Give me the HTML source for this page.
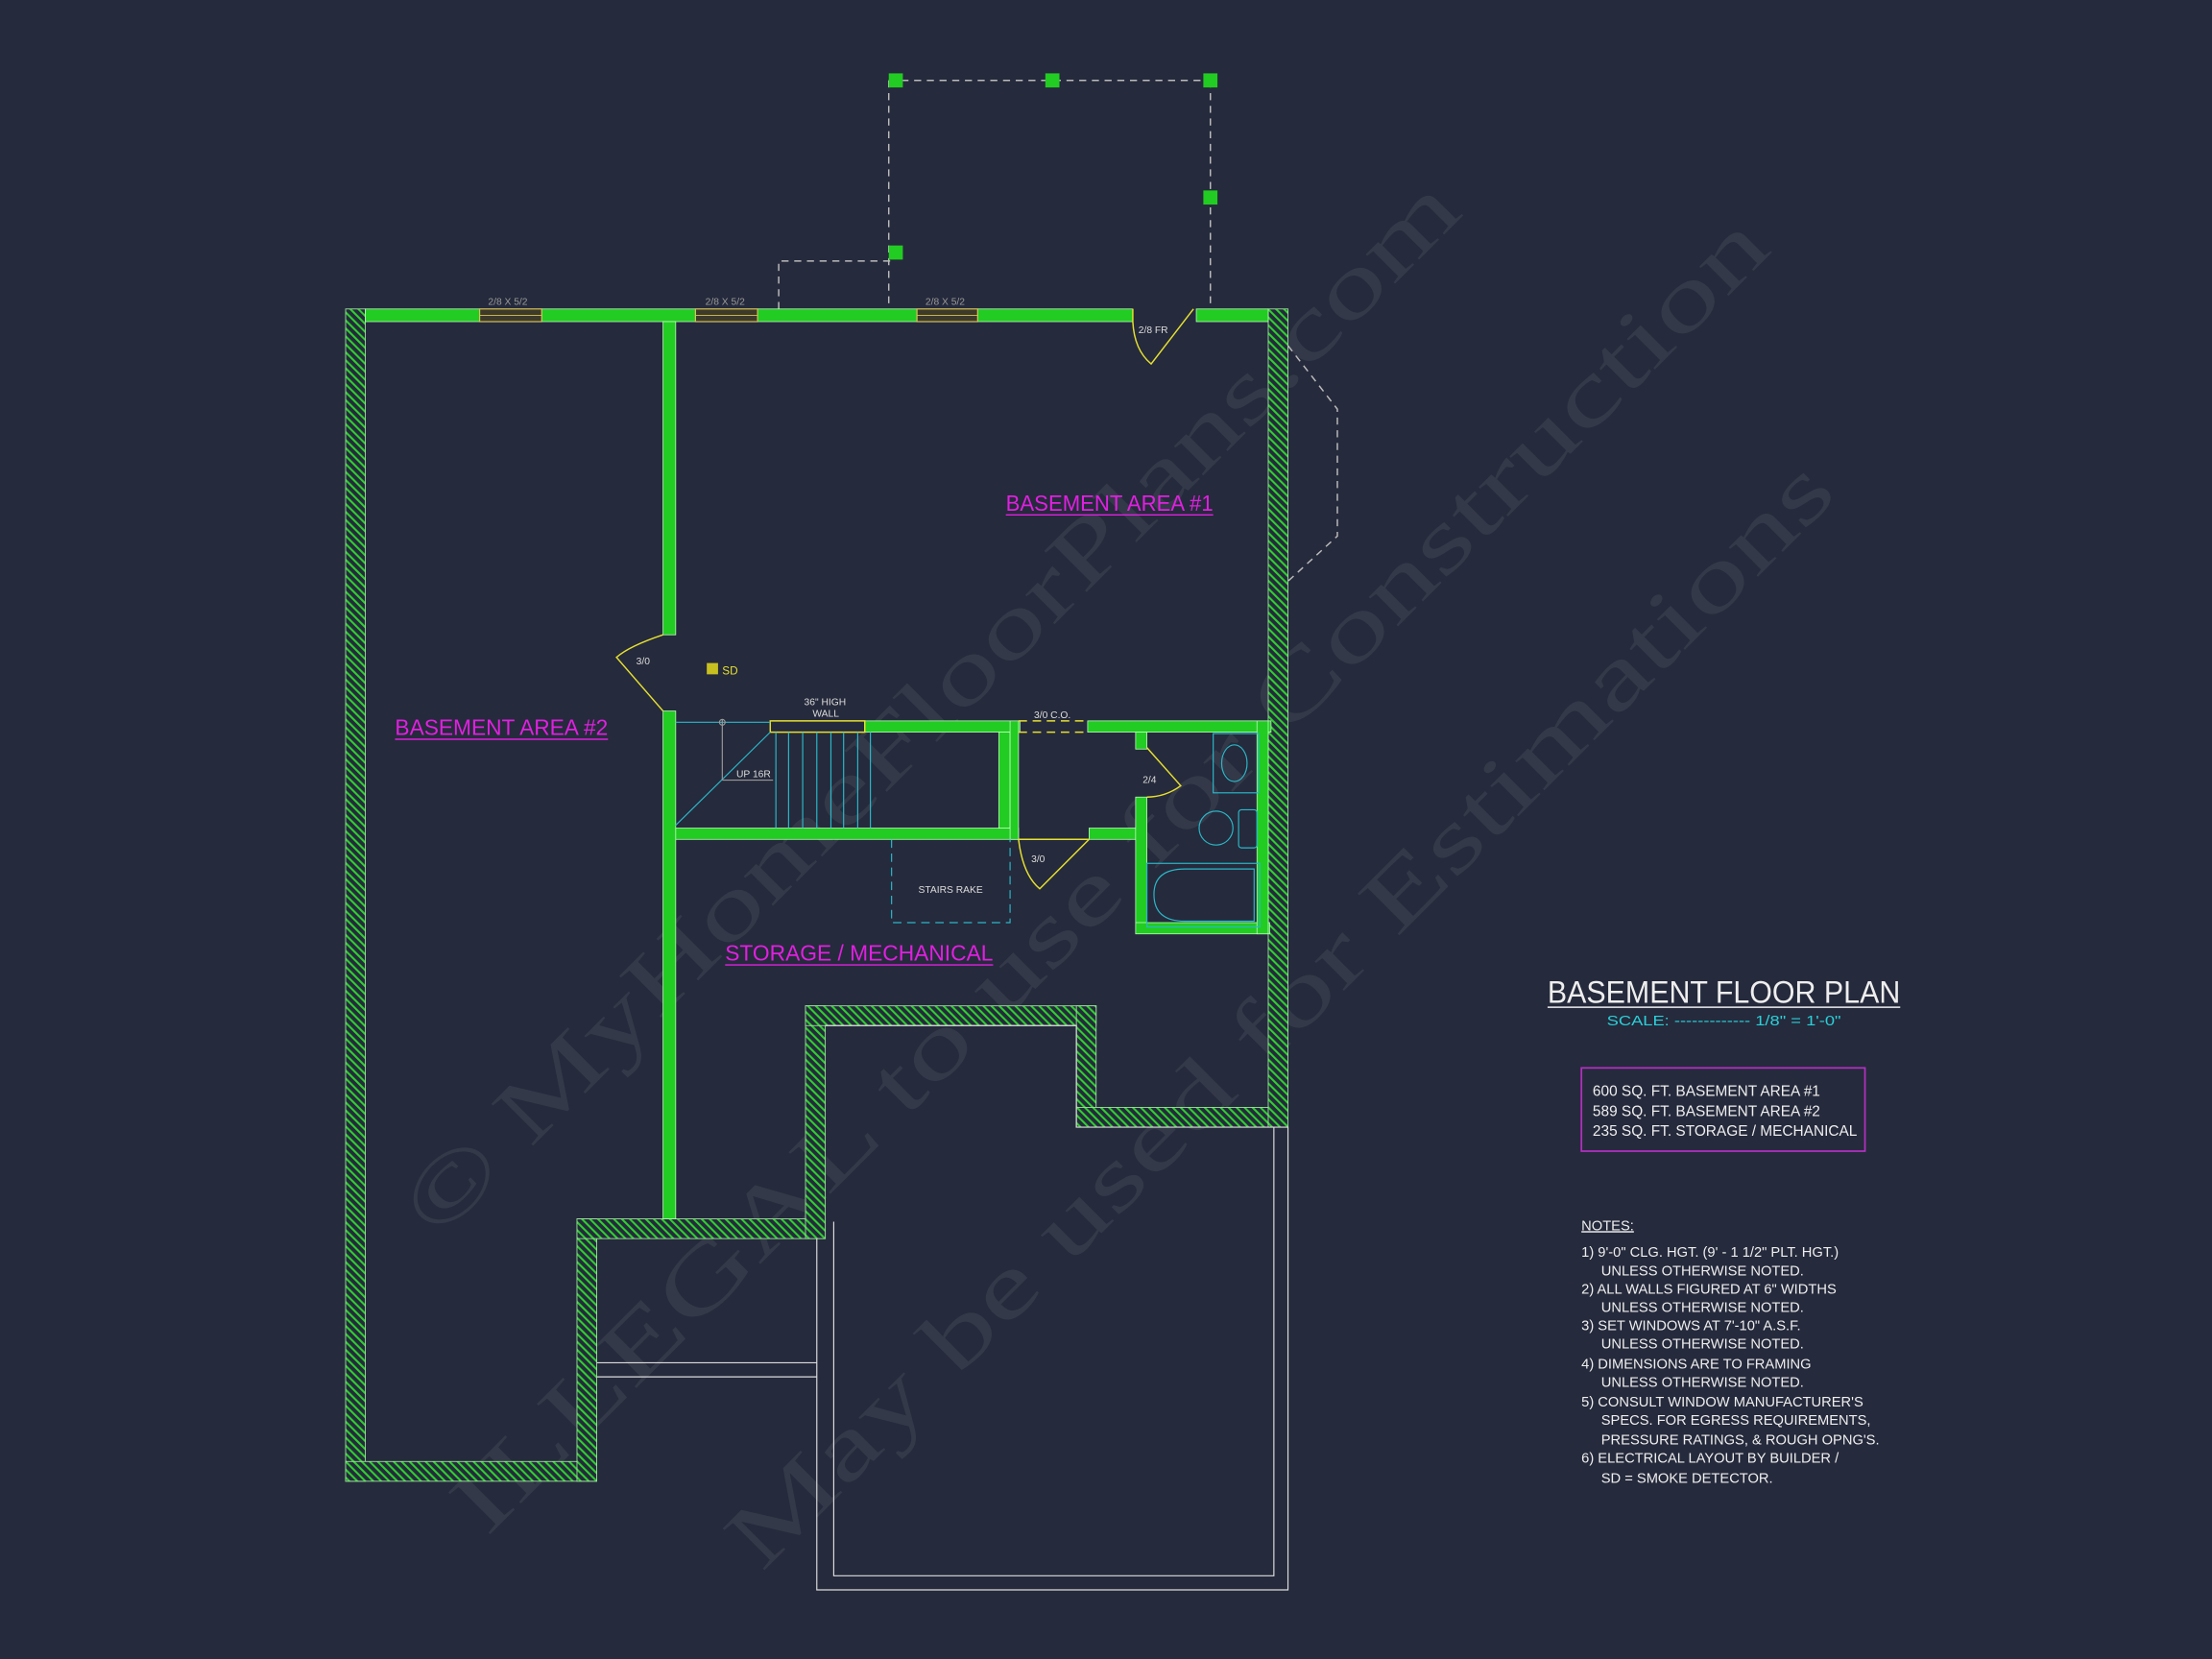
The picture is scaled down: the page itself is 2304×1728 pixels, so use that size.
<!DOCTYPE html>
<html><head><meta charset="utf-8"><style>
html,body{margin:0;padding:0;background:#252a3c;}
svg{display:block}
text{font-family:"Liberation Sans",sans-serif;}
text.wm{font-family:"Liberation Serif",serif;}
</style></head><body>
<svg width="2304" height="1728" viewBox="0 0 1568 1176" xmlns="http://www.w3.org/2000/svg">
<defs>
<pattern id="h" width="4" height="4" patternUnits="userSpaceOnUse" patternTransform="rotate(-45)">
<rect width="4" height="4" fill="#252a3c"/><rect width="1.4" height="4" fill="#2fd02f"/>
</pattern>
</defs>
<rect width="1568" height="1176" fill="#252a3c"/>

<!-- watermark -->
<g fill="#343949" font-size="64">
<text class="wm" transform="translate(310,880) rotate(-45)" textLength="1030" lengthAdjust="spacingAndGlyphs">© MyHomeFloorPlans.com</text>
<text class="wm" transform="translate(345,1090) rotate(-45)" textLength="1290" lengthAdjust="spacingAndGlyphs">ILLEGAL to use for Construction</text>
<text class="wm" transform="translate(540,1115) rotate(-45)" textLength="1080" lengthAdjust="spacingAndGlyphs">May be used for Estimations</text>
</g>

<!-- porch dashed -->
<g stroke="#bbbbbb" stroke-width="1" fill="none" stroke-dasharray="5,4">
<path d="M630 57 H858 M630 57 V219 M858 57 V219 M552 219 V185 H632"/>
<path d="M913 245 L948 290 V380 L913 412"/>
</g>
<g fill="#22cc22"><rect x="630" y="52" width="10" height="10"/><rect x="741" y="52" width="10" height="10"/><rect x="853" y="52" width="10" height="10"/><rect x="853" y="135" width="10" height="10"/><rect x="630" y="174" width="10" height="10"/></g>

<!-- hatched foundation walls -->
<g fill="url(#h)" stroke="#9fe39f" stroke-width="0.6">
<rect x="245" y="219" width="14" height="831"/>
<rect x="245" y="1036" width="178" height="14"/>
<rect x="409" y="864" width="14" height="186"/>
<rect x="409" y="864" width="176" height="14"/>
<rect x="571" y="713" width="14" height="165"/>
<rect x="571" y="713" width="206" height="14"/>
<rect x="763" y="713" width="14" height="86"/>
<rect x="763" y="785" width="150" height="14"/>
<rect x="899" y="219" width="14" height="580"/>
</g>

<!-- green walls -->
<g fill="#22cc22" stroke="#c8ffc8" stroke-width="0.5">
<rect x="259" y="219" width="81" height="9"/>
<rect x="384" y="219" width="109" height="9"/>
<rect x="537" y="219" width="113" height="9"/>
<rect x="693" y="219" width="110" height="9"/>
<rect x="848" y="219" width="51" height="9"/>
<rect x="470" y="228" width="9" height="222"/>
<rect x="470" y="504" width="9" height="360"/>
<rect x="613" y="511" width="110" height="8"/>
<rect x="771" y="511" width="130" height="8"/>
<rect x="479" y="587" width="243" height="8"/>
<rect x="708" y="519" width="8" height="68"/>
<rect x="716" y="511" width="6" height="84"/>
<rect x="772" y="587" width="36" height="8"/>
<rect x="805" y="519" width="8" height="12"/>
<rect x="805" y="565" width="8" height="96"/>
<rect x="805" y="654" width="95" height="8"/>
<rect x="891" y="511" width="8" height="151"/>
</g>
<!-- windows -->
<g fill="#3d3a2a" stroke="#d8c35a" stroke-width="0.8">
<rect x="340" y="219" width="44" height="9"/><rect x="493" y="219" width="44" height="9"/><rect x="650" y="219" width="43" height="9"/>
</g>
<g stroke="#d8c35a" stroke-width="0.6"><line x1="340" y1="223.5" x2="384" y2="223.5"/><line x1="493" y1="223.5" x2="537" y2="223.5"/><line x1="650" y1="223.5" x2="693" y2="223.5"/></g>
<g fill="#999" font-size="7"><text x="346" y="216">2/8 X 5/2</text><text x="500" y="216">2/8 X 5/2</text><text x="656" y="216">2/8 X 5/2</text></g>

<!-- doors yellow -->
<g stroke="#e6e030" stroke-width="1" fill="none">
<path d="M803 219 V228 Q804 248 816 258 L846 219"/>
<path d="M470 450 Q446 458 437 466 L470 504"/>
<path d="M546 511 H613 V519 H546 Z"/>
<path d="M722 511 H771 M722 519 H771" stroke-dasharray="6,4"/>
<path d="M813 530 L837 557 Q826 565 813 565"/>
<path d="M722 595 Q725 620 737 630 L772 595 M722 595 H772"/>
</g>
<g fill="#ddd" font-size="7"><text x="807" y="236">2/8 FR</text><text x="451" y="471">3/0</text><text x="810" y="555">2/4</text><text x="731" y="611">3/0</text><text x="733" y="509">3/0 C.O.</text><text x="570" y="500">36" HIGH</text><text x="576" y="508">WALL</text><text x="651" y="633">STAIRS RAKE</text><text x="522" y="551">UP 16R</text></g>
<rect x="501" y="470" width="8" height="8" fill="#c8c020"/><text x="512" y="478" fill="#e6e030" font-size="8">SD</text>

<!-- stairs -->
<g stroke="#2ab8c8" stroke-width="0.8" fill="none">
<line x1="479" y1="512" x2="546" y2="512"/>
<line x1="479" y1="585" x2="546" y2="519"/>
<path d="M550 519V587M559 519V587M569 519V587M579 519V587M589 519V587M598 519V587M608 519V587M617 519V587"/>
<path d="M632 595 V654 H716 V595" stroke-dasharray="6,4"/>
<rect x="860" y="520" width="32" height="42"/><ellipse cx="875" cy="541" rx="9" ry="13"/>
<circle cx="862" cy="587" r="12"/><rect x="878" y="574" width="13" height="27" rx="2"/>
<rect x="813" y="612" width="80" height="45"/><path d="M840 616 H889 V653 H840 Q818 653 818 634 Q818 616 840 616"/>
</g>
<g stroke="#999" stroke-width="0.8" fill="none"><line x1="512" y1="510" x2="512" y2="553"/><circle cx="512" cy="512" r="2"/><line x1="512" y1="553" x2="548" y2="553"/></g>

<!-- white outlines lower -->
<g stroke="#ddd" stroke-width="0.8" fill="none">
<path d="M585 727 H763 V799 H913 V1127 H579 V878"/>
<path d="M591 866 V1117 H903 V799"/>
<path d="M423 966 H579 M423 976 H579"/>
</g>

<!-- room labels -->
<g fill="#e020e0" font-size="16">
<text x="713" y="362" textLength="147" lengthAdjust="spacingAndGlyphs">BASEMENT AREA #1</text>
<text x="280" y="521" textLength="151" lengthAdjust="spacingAndGlyphs">BASEMENT AREA #2</text>
<text x="514" y="681" textLength="190" lengthAdjust="spacingAndGlyphs">STORAGE / MECHANICAL</text>
</g>
<g stroke="#e020e0" stroke-width="1"><line x1="713" y1="365" x2="860" y2="365"/><line x1="280" y1="524" x2="431" y2="524"/><line x1="514" y1="684" x2="704" y2="684"/></g>

<!-- title -->
<text x="1097" y="711" fill="#eee" font-size="22" textLength="250" lengthAdjust="spacingAndGlyphs">BASEMENT FLOOR PLAN</text>
<line x1="1097" y1="714" x2="1347" y2="714" stroke="#eee"/>
<text x="1139" y="727" fill="#2ad0d8" font-size="10" textLength="166" lengthAdjust="spacingAndGlyphs">SCALE: ------------- 1/8" = 1'-0"</text>
<rect x="1121" y="757" width="201" height="59" fill="none" stroke="#b030c0" stroke-width="1.2"/>
<g fill="#eee" font-size="10.5"><text x="1129" y="777">600 SQ. FT. BASEMENT AREA #1</text><text x="1129" y="791">589 SQ. FT. BASEMENT AREA #2</text><text x="1129" y="805">235 SQ. FT. STORAGE / MECHANICAL</text></g>
<g fill="#eee" font-size="10">
<text x="1121" y="872" text-decoration="underline">NOTES:</text>
<text x="1121" y="891">1) 9'-0"  CLG. HGT. (9' - 1 1/2" PLT. HGT.)</text>
<text x="1135" y="904">UNLESS OTHERWISE NOTED.</text>
<text x="1121" y="917">2) ALL  WALLS FIGURED AT 6" WIDTHS</text>
<text x="1135" y="930">UNLESS OTHERWISE NOTED.</text>
<text x="1121" y="943">3) SET WINDOWS AT 7'-10" A.S.F.</text>
<text x="1135" y="956">UNLESS OTHERWISE NOTED.</text>
<text x="1121" y="970">4) DIMENSIONS ARE TO FRAMING</text>
<text x="1135" y="983">UNLESS OTHERWISE NOTED.</text>
<text x="1121" y="997">5) CONSULT WINDOW MANUFACTURER'S</text>
<text x="1135" y="1010">SPECS. FOR EGRESS REQUIREMENTS,</text>
<text x="1135" y="1024">PRESSURE RATINGS, &amp; ROUGH OPNG'S.</text>
<text x="1121" y="1037">6) ELECTRICAL LAYOUT BY BUILDER /</text>
<text x="1135" y="1051">SD = SMOKE DETECTOR.</text>
</g>
</svg>
</body></html>
